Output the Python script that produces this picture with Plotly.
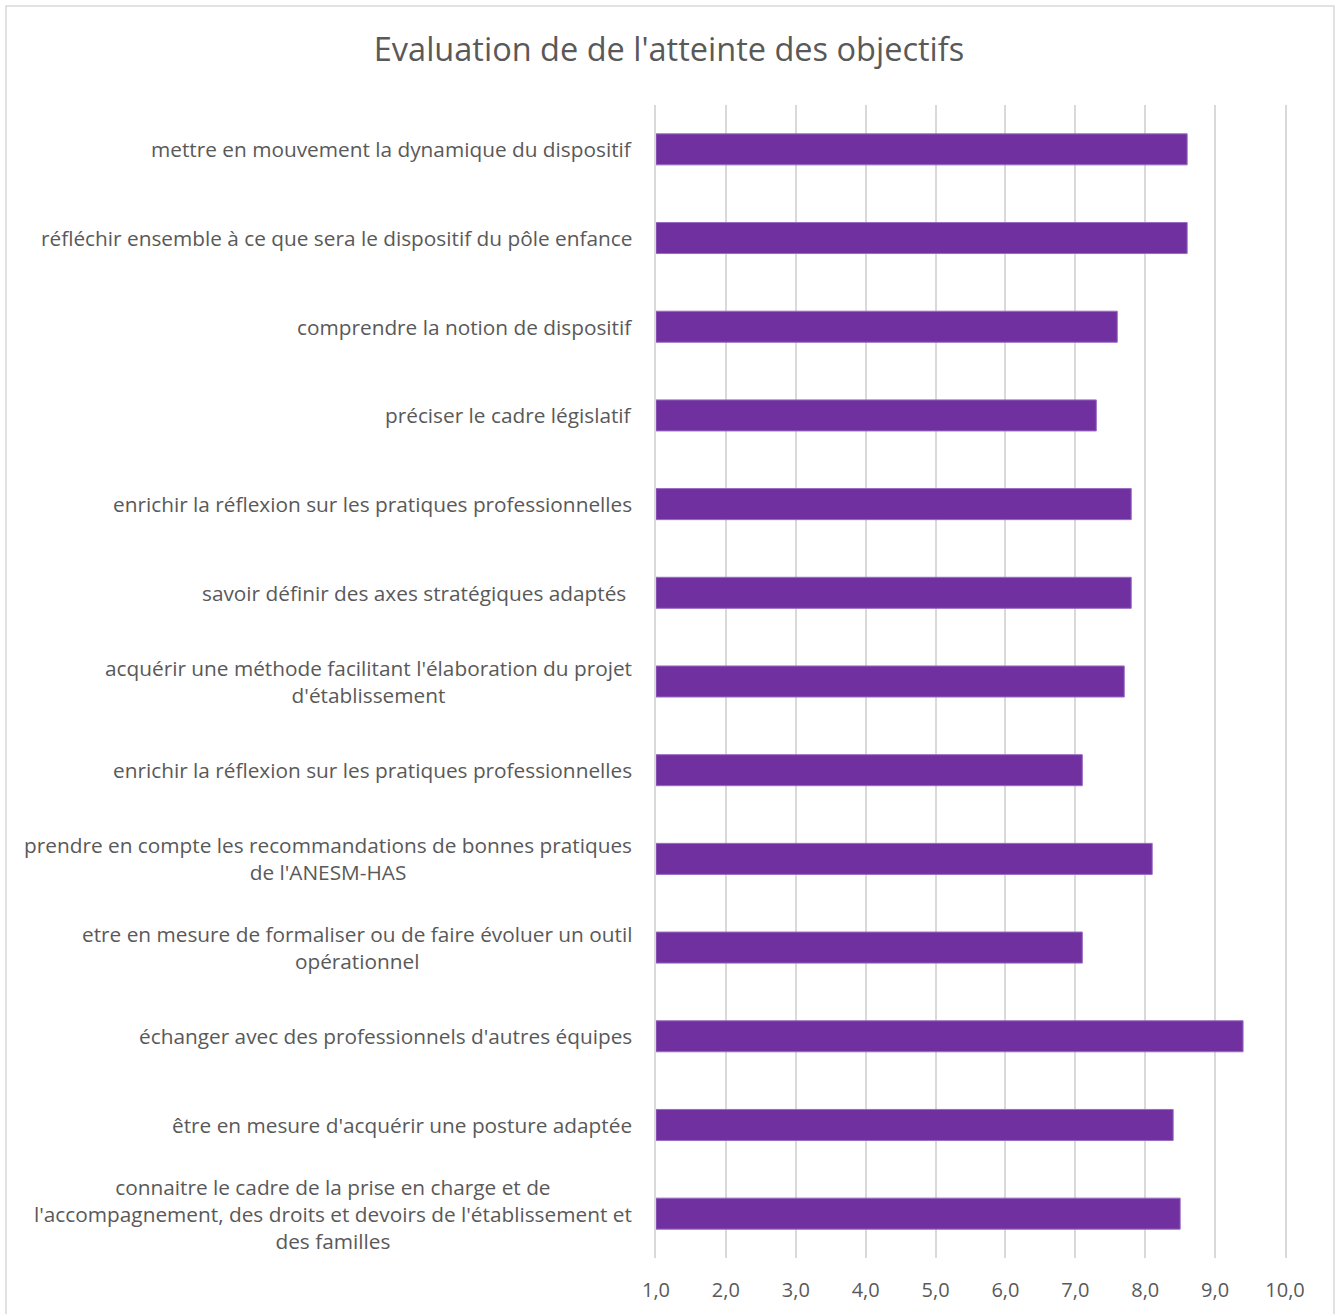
import plotly.graph_objects as go

title = "Evaluation de de l'atteinte des objectifs"
categories = [
    "mettre en mouvement la dynamique du dispositif",
    "réfléchir ensemble à ce que sera le dispositif du pôle enfance",
    "comprendre la notion de dispositif",
    "préciser le cadre législatif",
    "enrichir la réflexion sur les pratiques professionnelles",
    "savoir définir des axes stratégiques adaptés ",
    "acquérir une méthode facilitant l'élaboration du projet<br>d'établissement",
    "enrichir la réflexion sur les pratiques professionnelles",
    "prendre en compte les recommandations de bonnes pratiques<br>de l'ANESM-HAS",
    "etre en mesure de formaliser ou de faire évoluer un outil<br>opérationnel",
    "échanger avec des professionnels d'autres équipes",
    "être en mesure d'acquérir une posture adaptée",
    "connaitre le cadre de la prise en charge et de<br>l'accompagnement, des droits et devoirs de l'établissement et<br>des familles",
]
values = [8.6, 8.6, 7.6, 7.3, 7.8, 7.8, 7.7, 7.1, 8.1, 7.1, 9.4, 8.4, 8.5]
x_ticks = [1, 2, 3, 4, 5, 6, 7, 8, 9, 10]

positions = list(range(len(categories)))
base = 1.0

W, H = 1338, 1314
L, R, T, B = 656, 53, 105, 56
PW, PH = W - L - R, H - T - B

fig = go.Figure(go.Bar(
    y=positions,
    x=[v - base for v in values],
    base=base,
    orientation="h",
    marker=dict(color="#7030A0", line=dict(color="#9a6bc2", width=1)),
    hoverinfo="skip",
))

font_family = "Open Sans, Noto Sans, sans-serif"

annotations = []
for p, c in zip(positions, categories):
    annotations.append(dict(
        x=-22 / PW, xref="paper", y=p, yref="y",
        text=c, showarrow=False, xanchor="right", yanchor="middle",
        align="center",
        font=dict(family=font_family, size=20.8, color="#595959"),
    ))

fig.update_layout(
    width=W, height=H,
    paper_bgcolor="white", plot_bgcolor="white",
    margin=dict(l=L, r=R, t=T, b=B),
    separators=", ",
    bargap=0.65,
    showlegend=False,
    title=dict(text=title, x=0.5, xanchor="center", y=1 - 50 / H, yanchor="middle",
               xref="container", yref="container",
               font=dict(family=font_family, size=32.5, color="#595959")),
    xaxis=dict(range=[1, 10], tickvals=x_ticks, tickformat=".1f",
               showgrid=True, gridcolor="#d9d9d9", gridwidth=1.5,
               zeroline=False, showline=False, ticks="",
               ticklabelstandoff=18,
               tickfont=dict(family=font_family, size=20, color="#595959")),
    yaxis=dict(range=[len(categories) - 0.5, -0.5], showticklabels=False,
               showgrid=False, zeroline=False, ticks="",
               showline=True, mirror=True, linecolor="#d9d9d9", linewidth=1.5),
    annotations=annotations,
    shapes=[dict(type="rect", xref="paper", yref="paper",
                 x0=(6 - L) / PW, x1=(1334 - L) / PW,
                 y0=-(B + 20) / PH, y1=1 + (T - 6) / PH,
                 line=dict(color="#d9d9d9", width=1.5), layer="below")],
)

fig.write_html("out.html", config={"displayModeBar": False},
               post_script="document.body.style.margin='0';")
